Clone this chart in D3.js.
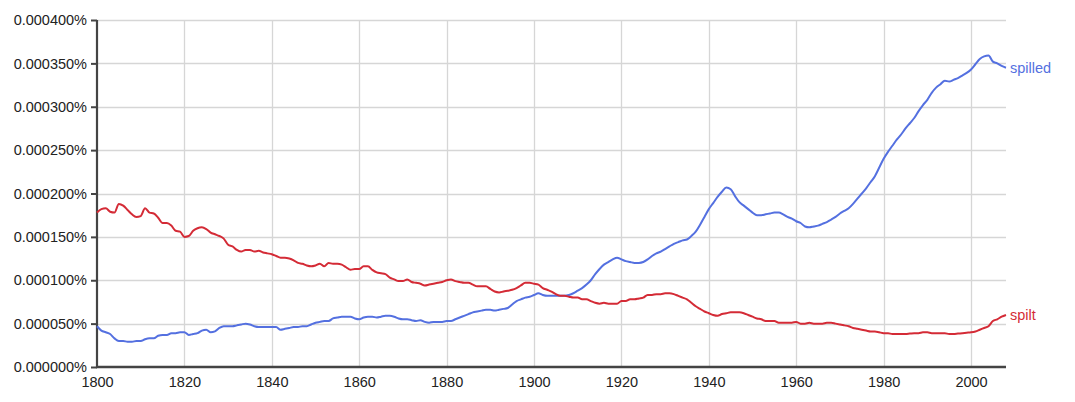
<!DOCTYPE html>
<html><head><meta charset="utf-8">
<script src="https://cdn.jsdelivr.net/npm/d3@7"></script>
<style>
html,body{margin:0;padding:0;background:#fff;}
svg text{font-family:"Liberation Sans",Arial,Helvetica,sans-serif;}
</style></head>
<body><svg id="chart" width="1075" height="402"></svg>
<script>
// Years 1800..2008, values in units of 0.000001 %
const startYear = 1800;
const endYear = 2008;
const seriesNames = ["spilled", "spilt"];
const spilled = [
47,42,40,38,33,30,30,29,29,30, 30,32,33,33,36,37,37,39,39,40,
40,37,38,39,42,43,40,41,45,47, 47,47,48,49,50,49,47,46,46,46,
46,46,43,44,45,46,46,47,47,49, 51,52,53,53,56,57,58,58,58,56,
55,57,58,58,57,58,59,59,58,56, 55,55,54,53,54,52,51,52,52,52,
53,53,55,57,59,61,63,64,65,66, 66,65,66,67,68,72,76,78,80,81,
83,85,83,82,82,82,82,82,83,85, 88,91,95,100,107,113,118,121,124,126,
124,122,121,120,120,121,124,128,131,133, 136,139,142,144,146,147,151,156,164,173,
182,189,196,202,207,205,197,190,186,182, 178,175,175,176,177,178,178,176,173,171,
168,166,162,161,162,163,165,167,170,173, 177,180,183,188,194,200,206,213,220,230,
240,248,255,262,268,275,281,287,295,302, 308,316,322,326,330,329,331,333,336,339,
343,349,355,358,359,352,350,347,345
];
const spilt = [
178,182,183,179,178,188,186,181,176,173, 174,183,178,177,172,166,166,163,157,156,
150,151,157,160,161,159,155,153,151,148, 141,139,135,133,135,135,133,134,132,131,
130,128,126,126,125,123,120,119,117,116, 117,119,116,120,119,119,118,115,112,113,
113,116,116,112,109,108,107,103,101,99, 99,101,98,97,96,94,95,96,97,98,
100,101,99,98,97,97,95,93,93,93, 90,87,86,87,88,89,91,94,97,97,
96,95,91,89,87,84,82,82,81,80, 80,78,78,76,74,73,74,73,73,73,
76,76,78,78,79,80,83,83,84,84, 85,85,84,82,80,78,74,70,67,64,
62,60,59,61,62,63,63,63,62,60, 58,56,55,53,53,53,51,51,51,51,
52,50,50,51,50,50,50,51,51,50, 49,48,47,45,44,43,42,41,41,40,
39,39,38,38,38,38,38.5,39,39,40, 40,39,39,39,39,38,38,38.5,39,39.5,
40,41,43,45,47,53,55,58,60
];
const seriesValues = [spilled, spilt];
const seriesColors = ["#5470e0", "#d42b36"];
const yTicks = [0, 50, 100, 150, 200, 250, 300, 350, 400];
const xTicks = [1800, 1820, 1840, 1860, 1880, 1900, 1920, 1940, 1960, 1980, 2000];

(function () {
const svg = d3.select("#chart");
const pl = 97, pr = 1006, pt = 20, pb = 367;
const x = d3.scaleLinear().domain([startYear, endYear]).range([pl, pr]);
const y = d3.scaleLinear().domain([0, 400]).range([pb, pt]);
const fmt = v => (v / 1e6).toFixed(6) + "%";

// grid
const g = svg.append("g");
g.selectAll("line.hg").data(yTicks.filter(d => d > 0)).join("line")
  .attr("x1", pl).attr("x2", pr)
  .attr("y1", d => Math.round(y(d)) + 0.5).attr("y2", d => Math.round(y(d)) + 0.5)
  .attr("stroke", "#d6d6d6").attr("stroke-width", 1.3);
g.selectAll("line.vg").data(xTicks.filter(d => d > startYear)).join("line")
  .attr("x1", d => Math.round(x(d)) + 0.5).attr("x2", d => Math.round(x(d)) + 0.5)
  .attr("y1", pt).attr("y2", pb)
  .attr("stroke", "#d6d6d6").attr("stroke-width", 1.3);

// axes
const yAxis = d3.axisLeft(y).tickValues(yTicks).tickFormat(fmt).tickSize(6).tickPadding(4);
const ya = svg.append("g").attr("transform", `translate(${pl},0)`).call(yAxis);
ya.select(".domain").attr("stroke", "#444").attr("stroke-width", 2.2).attr("d", `M0,${pt}V${pb}`);
ya.selectAll(".tick line").attr("stroke", "#444").attr("stroke-width", 2);
ya.selectAll(".tick text").attr("fill", "#222").style("font-size", "14.5px")
  .attr("font-family", "Liberation Sans, Arial, sans-serif");

const xAxis = d3.axisBottom(x).tickValues(xTicks).tickFormat(d3.format("d")).tickSize(0).tickPadding(10);
const xa = svg.append("g").attr("transform", `translate(0,${pb})`).call(xAxis);
xa.select(".domain").attr("stroke", "#444").attr("stroke-width", 2.4).attr("d", `M${pl - 1},0H${pr}`);
xa.selectAll(".tick text").attr("fill", "#222").style("font-size", "14.5px")
  .attr("font-family", "Liberation Sans, Arial, sans-serif");

// lines
const years = d3.range(startYear, endYear + 1);
const line = d3.line().x((d, i) => x(years[i])).y(d => y(d)).curve(d3.curveMonotoneX);
seriesValues.forEach((vals, k) => {
  svg.append("path").datum(vals).attr("d", line)
    .attr("fill", "none").attr("stroke", seriesColors[k]).attr("stroke-width", 2)
    .attr("stroke-linejoin", "round");
  svg.append("text").attr("x", 1010).attr("y", y(vals[vals.length - 1]))
    .attr("dy", "0.35em").attr("fill", seriesColors[k]).style("font-size", "14.5px")
    .text(seriesNames[k]);
});
})();
</script></body></html>
